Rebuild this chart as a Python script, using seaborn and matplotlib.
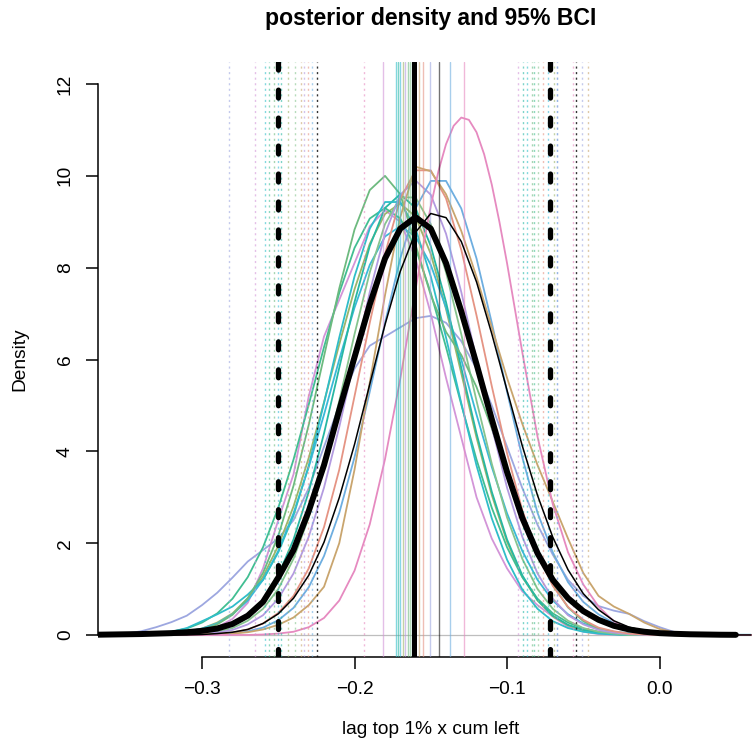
import matplotlib
matplotlib.use("Agg")
import matplotlib.pyplot as plt
import seaborn as sns
import pandas as pd

# ---------------- data ----------------
grid_x = [-0.37, -0.36, -0.35, -0.34, -0.33, -0.32, -0.31, -0.30, -0.29, -0.28,
          -0.27, -0.26, -0.25, -0.24, -0.23, -0.22, -0.21, -0.20, -0.19, -0.18,
          -0.17, -0.16, -0.15, -0.14, -0.13, -0.12, -0.11, -0.10, -0.09, -0.08,
          -0.07, -0.06, -0.05, -0.04, -0.03, -0.02, -0.01, 0.00, 0.01, 0.02,
          0.03, 0.04, 0.05, 0.06]

# pooled posterior density (thick black), ends at x = 0.05
pooled = [0.005, 0.01, 0.015, 0.02, 0.03, 0.04, 0.06, 0.09, 0.14, 0.24,
          0.42, 0.72, 1.25, 1.85, 2.7, 3.7, 4.9, 6.05, 7.2, 8.2,
          8.85, 9.1, 8.85, 8.1, 7.05, 5.9, 4.7, 3.55, 2.55, 1.78,
          1.2, 0.8, 0.52, 0.33, 0.2, 0.12, 0.07, 0.04, 0.025, 0.015,
          0.01, 0.005, 0.003]

thin_black = [0, 0, 0, 0, 0, 0, 0, 0.01, 0.03, 0.06,
              0.12, 0.25, 0.46, 0.80, 1.30, 2.02, 2.99, 4.15, 5.46, 6.76,
              7.92, 8.77, 9.18, 9.09, 8.57, 7.69, 6.56, 5.33, 4.12, 3.04,
              2.13, 1.42, 0.90, 0.55, 0.31, 0.17, 0.09, 0.04, 0.02, 0.01,
              0, 0, 0, 0]

# the tall pink chain, sampled more finely around its peak
pink_x = [-0.37, -0.27, -0.26, -0.25, -0.24, -0.23, -0.22, -0.21, -0.20, -0.19,
          -0.18, -0.17, -0.16, -0.155, -0.15, -0.145, -0.14, -0.135, -0.13, -0.125,
          -0.12, -0.115, -0.11, -0.105, -0.10, -0.09, -0.08, -0.07, -0.06, -0.05,
          -0.04, -0.03, -0.02, -0.01, 0.00, 0.01, 0.06]
pink = [0, 0, 0.01, 0.03, 0.07, 0.17, 0.37, 0.75, 1.40, 2.41,
        3.83, 5.58, 7.52, 8.47, 9.34, 10.10, 10.69, 11.09, 11.27, 11.22,
        10.95, 10.47, 9.81, 9.0, 8.10, 6.16, 4.32, 2.85, 1.8, 1.1,
        0.62, 0.3, 0.12, 0.05, 0.02, 0.01, 0]

periwinkle = [0.0, 0.01, 0.03, 0.08, 0.17, 0.28, 0.42, 0.65, 0.92, 1.25,
              1.6, 1.85, 2.1, 2.5, 3.2, 4.1, 5.0, 5.8, 6.3, 6.5,
              6.7, 6.9, 6.95, 6.8, 6.4, 5.8, 5.0, 4.1, 3.2, 2.4,
              1.75, 1.2, 0.85, 0.63, 0.53, 0.46, 0.3, 0.17, 0.06, 0.02,
              0.01, 0, 0, 0]

orchid = [0, 0, 0, 0, 0.01, 0.02, 0.04, 0.08, 0.17, 0.35,
          0.7, 1.45, 2.5, 3.5, 5.2, 6.5, 7.3, 8.1, 8.9, 9.25,
          9.0, 8.2, 7.0, 5.6, 4.3, 3.0, 2.1, 1.45, 0.95, 0.65,
          0.4, 0.18, 0.07, 0.02, 0.01, 0, 0, 0, 0, 0,
          0, 0, 0, 0]

green = [0, 0, 0, 0, 0.01, 0.02, 0.05, 0.11, 0.23, 0.44,
         0.80, 1.35, 2.16, 3.25, 4.58, 6.07, 7.55, 8.83, 9.69, 10.0,
         9.6, 8.5, 7.4, 6.6, 6.1, 5.4, 4.5, 3.5, 2.6, 1.8,
         1.1, 0.6, 0.3, 0.13, 0.05, 0.02, 0.01, 0, 0, 0,
         0, 0, 0, 0]

tan = [0, 0, 0, 0, 0, 0, 0, 0.01, 0.02, 0.03,
       0.06, 0.12, 0.22, 0.38, 0.65, 1.05, 2.0, 3.6, 5.5, 7.4,
       9.1, 10.2, 10.1, 9.6, 8.8, 7.8, 6.7, 5.6, 4.6, 3.7,
       2.9, 2.1, 1.35, 0.85, 0.62, 0.46, 0.27, 0.13, 0.05, 0.02,
       0.01, 0, 0, 0]

salmon = [0, 0, 0, 0, 0, 0, 0, 0.01, 0.02, 0.05,
          0.12, 0.25, 0.48, 0.85, 1.45, 2.35, 3.6, 5.2, 6.8, 8.3,
          9.5, 10.12, 10.12, 9.51, 8.39, 6.96, 5.42, 3.96, 2.72, 1.76,
          1.07, 0.61, 0.33, 0.16, 0.08, 0.03, 0.01, 0, 0, 0,
          0, 0, 0, 0]

blue = [0, 0, 0, 0, 0, 0, 0, 0, 0.01, 0.03,
        0.08, 0.16, 0.32, 0.59, 1.04, 1.72, 2.66, 3.87, 5.30, 6.80,
        8.20, 9.29, 9.89, 9.89, 9.29, 8.20, 6.80, 5.30, 3.87, 2.66,
        1.8, 1.15, 0.72, 0.45, 0.26, 0.14, 0.07, 0.03, 0.01, 0,
        0, 0, 0, 0]

cyan = [0, 0, 0, 0.01, 0.03, 0.07, 0.15, 0.3, 0.45, 0.62,
        0.88, 1.2, 1.8, 2.6, 3.69, 5.05, 6.48, 7.81, 8.85, 9.43,
        9.43, 8.85, 7.81, 6.48, 5.05, 3.69, 2.54, 1.64, 0.99, 0.57,
        0.30, 0.15, 0.07, 0.03, 0.01, 0, 0, 0, 0, 0,
        0, 0, 0, 0]

teal = [0, 0, 0, 0, 0, 0, 0.02, 0.05, 0.11, 0.22,
        0.42, 0.76, 1.30, 2.08, 3.12, 4.39, 5.82, 7.25, 8.47, 9.30,
        9.6, 9.30, 8.47, 7.25, 5.82, 4.39, 3.12, 2.08, 1.30, 0.76,
        0.42, 0.22, 0.11, 0.05, 0.02, 0, 0, 0, 0, 0,
        0, 0, 0, 0]

lavender = [0, 0, 0, 0, 0, 0, 0, 0.02, 0.05, 0.11,
            0.23, 0.43, 0.79, 1.34, 2.14, 3.21, 4.53, 6.00, 7.47, 8.74,
            9.59, 9.9, 9.59, 8.74, 7.47, 6.00, 4.53, 3.21, 2.14, 1.34,
            0.79, 0.43, 0.23, 0.11, 0.05, 0.02, 0, 0, 0, 0,
            0, 0, 0, 0]

cyan2 = [0, 0, 0, 0, 0.02, 0.03, 0.07, 0.14, 0.25, 0.45,
         0.75, 1.20, 1.83, 2.65, 3.66, 4.80, 6.00, 7.13, 8.06, 8.68,
         8.9, 8.68, 8.06, 7.13, 6.00, 4.80, 3.66, 2.65, 1.83, 1.20,
         0.75, 0.45, 0.25, 0.14, 0.07, 0.04, 0.03, 0.02, 0.02, 0.015,
         0.01, 0.01, 0.005, 0.005]

tealgreen = [0, 0, 0, 0.02, 0.04, 0.07, 0.14, 0.27, 0.47, 0.79,
             1.26, 1.91, 2.77, 3.82, 5.02, 6.27, 7.45, 8.43, 9.07, 9.3,
             9.07, 8.43, 7.45, 6.27, 5.02, 3.82, 2.77, 1.91, 1.26, 0.79,
             0.47, 0.27, 0.14, 0.07, 0.04, 0.02, 0, 0, 0, 0,
             0, 0, 0, 0]

olive = [0, 0, 0, 0, 0.02, 0.04, 0.07, 0.14, 0.27, 0.47,
         0.80, 1.27, 1.94, 2.80, 3.86, 5.07, 6.33, 7.53, 8.52, 9.17,
         9.4, 9.11, 8.30, 7.10, 5.70, 4.30, 3.05, 2.03, 1.27, 0.75,
         0.41, 0.21, 0.10, 0.05, 0.02, 0, 0, 0, 0, 0,
         0, 0, 0, 0]

lightgreen = [0, 0, 0, 0, 0, 0, 0, 0.03, 0.07, 0.15,
              0.31, 0.57, 1.00, 1.66, 2.56, 3.73, 5.10, 6.55, 7.90, 8.95,
              9.53, 9.53, 8.95, 7.90, 6.55, 5.10, 3.73, 2.56, 1.66, 1.00,
              0.57, 0.31, 0.15, 0.07, 0.03, 0, 0, 0, 0, 0,
              0, 0, 0, 0]

chain_names = ["periwinkle", "orchid", "olive", "tealgreen", "cyan2", "teal",
               "cyan", "lightgreen", "green", "lavender", "blue", "salmon",
               "tan", "pink"]
chain_curves = [periwinkle, orchid, olive, tealgreen, cyan2, teal,
                cyan, lightgreen, green, lavender, blue, salmon, tan, pink]
chain_xs = [grid_x] * 13 + [pink_x]
chain_colors = ["#9DA7E0", "#D395D8", "#9CB56A", "#41BE92", "#3AB9D8", "#27B7A3",
                "#2FBDC9", "#86C48E", "#6DBA7F", "#B39BE0", "#6EAEE0", "#E59484",
                "#C9A56E", "#E68AC0"]
# posterior means (solid) and 95% BCI bounds (dotted) per chain
chain_means = [-0.1502, -0.181, -0.168, -0.162, -0.170, -0.1718,
               -0.1725, -0.1639, -0.1652, -0.1672, -0.1377, -0.1548,
               -0.1574, -0.1285]
chain_lo = [-0.282, -0.265, -0.2433, -0.256, -0.2505, -0.248,
            -0.259, -0.239, -0.253, -0.2328, -0.228, -0.2302,
            -0.2348, -0.194]
chain_hi = [-0.0511, -0.0925, -0.0695, -0.0826, -0.0734, -0.0898,
            -0.0872, -0.080, -0.0839, -0.0675, -0.067, -0.0761,
            -0.0466, -0.057]

thin_mean, thin_lo, thin_hi = -0.1449, -0.2249, -0.0551
pooled_mean, pooled_lo, pooled_hi = -0.161, -0.250, -0.072

x_ticks = [-0.3, -0.2, -0.1, 0.0]
x_tick_labels = ["\u22120.3", "\u22120.2", "\u22120.1", "0.0"]
y_ticks = [0, 2, 4, 6, 8, 10, 12]

# ---------------- figure ----------------
sns.set_style("ticks")
plt.rcParams['font.family'] = ['Liberation Sans', 'DejaVu Sans']
plt.rcParams['text.color'] = 'black'
plt.rcParams['axes.labelcolor'] = 'black'
plt.rcParams['xtick.color'] = 'black'
plt.rcParams['ytick.color'] = 'black'

W, H = 752, 751
fig = plt.figure(figsize=(W / 100, H / 100), dpi=100)
left_px, right_px, top_px, bot_px = 98, 764, 62, 657
ax = fig.add_axes([left_px / W, (H - bot_px) / H,
                   (right_px - left_px) / W, (bot_px - top_px) / H])

rows = []
for name, xs, curve in zip(chain_names, chain_xs, chain_curves):
    for xv, yv in zip(xs, curve):
        rows.append({"chain": name, "x": xv, "density": yv})
df = pd.DataFrame(rows)
palette = dict(zip(chain_names, chain_colors))

ax.axhline(0, color="#BEBEBE", lw=0.9, zorder=0.5)

sns.lineplot(data=df, x="x", y="density", hue="chain", hue_order=chain_names,
             palette=palette, estimator=None, sort=False, legend=False,
             linewidth=1.3, ax=ax, zorder=2)

dot = (0, (1.5, 2.5))
for c, m, lo, hi in zip(chain_colors, chain_means, chain_lo, chain_hi):
    ax.axvline(m, color=c, lw=1.0, alpha=0.6, zorder=3)
    ax.axvline(lo, color=c, lw=1.0, alpha=0.6, ls=dot, zorder=3)
    ax.axvline(hi, color=c, lw=1.0, alpha=0.6, ls=dot, zorder=3)
ax.axvline(thin_mean, color="black", lw=1.0, alpha=0.55, zorder=3)
ax.axvline(thin_lo, color="black", lw=1.0, alpha=0.8, ls=dot, zorder=3)
ax.axvline(thin_hi, color="black", lw=1.0, alpha=0.8, ls=dot, zorder=3)

sns.lineplot(x=grid_x, y=thin_black, color="black", linewidth=1.1,
             estimator=None, sort=False, ax=ax, zorder=4)
sns.lineplot(x=grid_x[:len(pooled)], y=pooled, color="black", linewidth=4.3,
             estimator=None, sort=False, ax=ax, zorder=5,
             solid_capstyle="round", solid_joinstyle="round")

ax.axvline(pooled_mean, color="black", lw=3.6, zorder=6)
for v in (pooled_lo, pooled_hi):
    ax.axvline(v, color="black", lw=3.8, ls=(0, (1.5, 3.8)),
               dash_capstyle="round", zorder=6)

ax.set_xlim(-0.3682, 0.0685)
ax.set_ylim(-0.48, 12.48)
ax.set_xticks(x_ticks)
ax.set_xticklabels(x_tick_labels)
ax.set_yticks(y_ticks)
ax.set_yticklabels([str(t) for t in y_ticks])

for s in ("top", "right"):
    ax.spines[s].set_visible(False)
ax.spines["left"].set_bounds(0, 12)
ax.spines["bottom"].set_bounds(-0.3, 0.0)
for s in ("left", "bottom"):
    ax.spines[s].set_linewidth(1.1)
    ax.spines[s].set_color("black")

ax.tick_params(axis="both", direction="out", length=8.3, width=1.1, pad=9,
               labelsize=13.8, colors="black", bottom=True, left=True)
for lab in ax.get_yticklabels():
    lab.set_rotation(90)
    lab.set_va("center")
    lab.set_ha("right")

ax.set_xlabel("lag top 1% x cum left", fontsize=13.8, color="black")
ax.xaxis.set_label_coords(0.5, (bot_px - 730) / (bot_px - top_px))
ax.xaxis.label.set_va("center")
ax.set_ylabel("Density", fontsize=13.8, color="black")
ax.yaxis.set_label_coords((20 - left_px) / (right_px - left_px), 0.5)
ax.yaxis.label.set_va("center")
ax.yaxis.label.set_ha("center")

fig.text(431 / W, 1 - 19 / H, "posterior density and 95% BCI", ha="center",
         va="center", fontsize=16.6, fontweight="bold", color="black")

fig.savefig("out.png", dpi=100)
